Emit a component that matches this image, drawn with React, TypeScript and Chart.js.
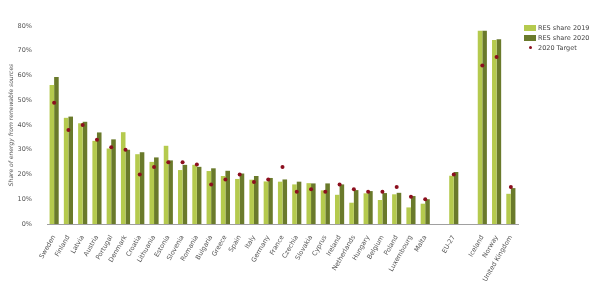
import React, { useEffect, useRef } from "react";
import { Chart, registerables } from "chart.js";

Chart.register(...registerables);

const countries = [
  "Sweden", "Finland", "Latvia", "Austria", "Portugal", "Denmark", "Croatia",
  "Lithuania", "Estonia", "Slovenia", "Romania", "Bulgaria", "Greece", "Spain",
  "Italy", "Germany", "France", "Czechia", "Slovakia", "Cyprus", "Ireland",
  "Netherlands", "Hungary", "Belgium", "Poland", "Luxembourg", "Malta", "",
  "EU-27", "", "Iceland", "Norway", "United Kingdom",
];

const res2019 = [
  56.2, 42.9, 40.7, 33.6, 30.5, 37.1, 28.2, 25.1, 31.6, 21.8, 23.9, 21.4, 19.4,
  18.2, 17.9, 17.2, 17.1, 16.0, 16.5, 13.6, 11.8, 8.6, 12.4, 9.7, 12.0, 6.7, 8.2,
  null, 19.5, null, 78.1, 74.3, 12.2,
];

const res2020 = [
  59.4, 43.4, 41.3, 37.0, 34.2, 30.0, 29.0, 26.9, 25.7, 23.9, 23.1, 22.5, 21.5,
  20.4, 19.4, 18.6, 18.0, 17.1, 16.4, 16.4, 16.0, 13.7, 13.3, 12.5, 12.6, 11.3,
  10.0, null, 21.0, null, 78.1, 74.6, 14.5,
];

const target2020 = [
  49, 38, 40, 34, 31, 30, 20, 23, 25, 25, 24, 16, 18, 20, 17, 18, 23, 13, 14, 13,
  16, 14, 13, 13, 15, 11, 10, null, 20, null, 64, 67.5, 15,
];

const yTicks = [0, 10, 20, 30, 40, 50, 60, 70, 80];

const LIGHT = "#b5ca4e";
const DARK = "#6a7a2b";
const RED = "#8c0f1e";
const FONT = "'DejaVu Sans', Verdana, sans-serif";

export default function App() {
  const ref = useRef<HTMLCanvasElement | null>(null);

  useEffect(() => {
    if (!ref.current) return;
    const chart = new Chart(ref.current, {
      type: "bar",
      data: {
        labels: countries,
        datasets: [
          {
            type: "line",
            label: "2020 Target",
            data: target2020,
            showLine: false,
            pointRadius: 2,
            pointBackgroundColor: RED,
            pointBorderColor: RED,
            pointBorderWidth: 0,
            order: 0,
          } as any,
          {
            label: "RES share 2019",
            data: res2019,
            backgroundColor: LIGHT,
            order: 1,
            categoryPercentage: 0.64,
            barPercentage: 1,
          },
          {
            label: "RES share 2020",
            data: res2020,
            backgroundColor: DARK,
            order: 1,
            categoryPercentage: 0.64,
            barPercentage: 1,
          },
        ],
      },
      options: {
        responsive: false,
        animation: false,
        layout: { padding: { top: 26, right: 82, left: 0, bottom: 0 } },
        plugins: { legend: { display: false }, tooltip: { enabled: false } },
        scales: {
          x: {
            grid: { display: false },
            border: { display: true, color: "#a0a0a0", width: 1 },
            ticks: {
              autoSkip: false,
              maxRotation: 60,
              minRotation: 60,
              padding: 2,
              color: "#555",
              font: { family: FONT, size: 6.5 },
            },
            afterFit: (s: any) => {
              s.height = 61;
            },
          },
          y: {
            min: 0,
            max: 80,
            afterBuildTicks: (s: any) => {
              s.ticks = yTicks.map((v) => ({ value: v }));
            },
            grid: { display: false },
            border: { display: false },
            ticks: {
              padding: 7,
              color: "#555",
              font: { family: FONT, size: 6.5 },
              callback: (v: any) => v + "%",
            },
            title: {
              display: true,
              text: "Share of energy from renewable sources",
              color: "#555",
              font: { family: FONT, size: 6, style: "italic" },
              padding: { top: 8, bottom: 0 },
            },
            afterFit: (s: any) => {
              s.width = 47;
            },
          },
        },
      },
    });
    return () => chart.destroy();
  }, []);

  const legendItem = (label: string, kind: "light" | "dark" | "dot", top: number) => (
    <div
      key={label}
      style={{
        position: "absolute",
        left: 524,
        top,
        height: 10,
        display: "flex",
        alignItems: "center",
        fontFamily: FONT,
        fontSize: 6.5,
        color: "#444",
        whiteSpace: "nowrap",
      }}
    >
      <div style={{ width: 12, height: 10, position: "relative", marginRight: 2 }}>
        {kind === "dot" ? (
          <div
            style={{
              position: "absolute",
              left: 4.5,
              top: 3.5,
              width: 3,
              height: 3,
              borderRadius: "50%",
              background: RED,
            }}
          />
        ) : (
          <div
            style={{
              position: "absolute",
              left: 0,
              top: 2,
              width: 12,
              height: 6,
              background: kind === "light" ? LIGHT : DARK,
            }}
          />
        )}
      </div>
      <span>{label}</span>
    </div>
  );

  return (
    <div style={{ position: "fixed", left: 0, top: 0, width: 600, height: 285, background: "#fff" }}>
      <canvas ref={ref} width={600} height={285} style={{ width: 600, height: 285, display: "block" }} />
      {legendItem("RES share 2019", "light", 23)}
      {legendItem("RES share 2020", "dark", 33)}
      {legendItem("2020 Target", "dot", 42.5)}
    </div>
  );
}
